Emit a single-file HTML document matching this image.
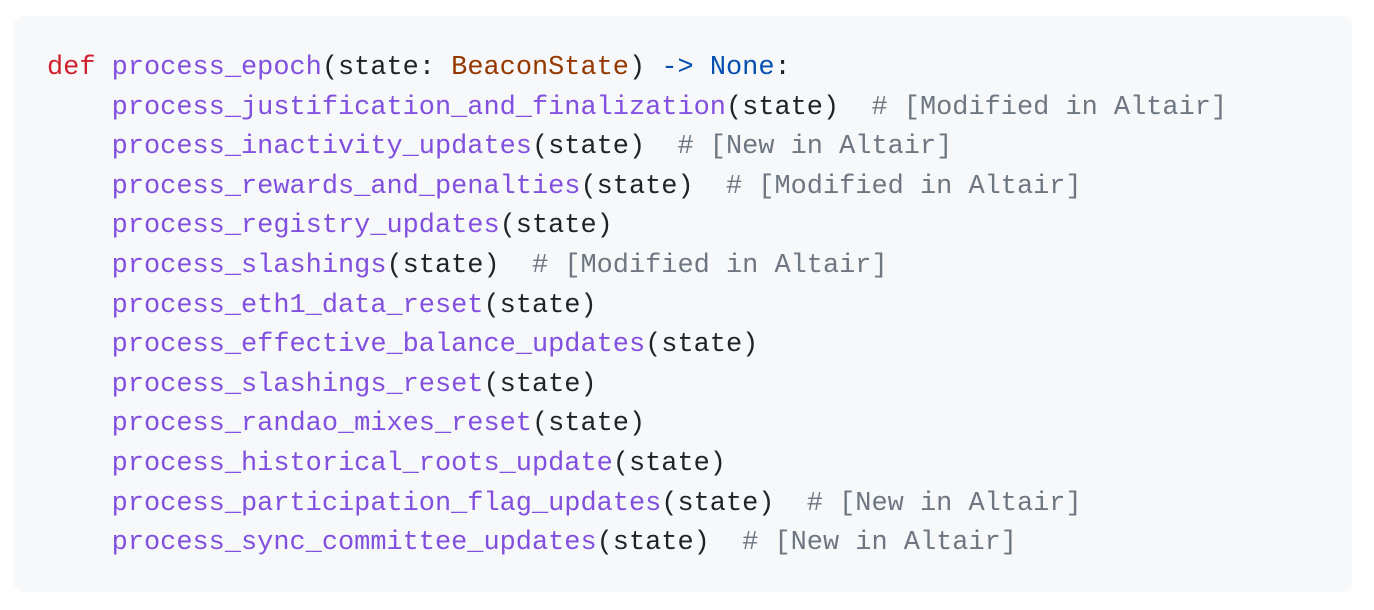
<!DOCTYPE html>
<html><head><meta charset="utf-8"><style>
html,body{margin:0;padding:0;background:#fff;width:1374px;height:610px;overflow:hidden}
.box{position:absolute;left:14px;top:16px;width:1338px;height:576px;background:#f6f8fa;border-radius:10px}
pre{position:absolute;left:47px;top:49px;margin:0;font-family:"Liberation Mono",monospace;font-size:26.95px;line-height:39.6px;color:#1f2328}
.k{color:#cf222e}.f{color:#8250df}.t{color:#953800}.b{color:#0550ae}.c{color:#6e7781}
</style></head><body><div class="box"></div>
<pre><span class="k">def</span> <span class="f">process_epoch</span>(state: <span class="t">BeaconState</span>) <span class="b">-&gt;</span> <span class="b">None</span>:
    <span class="f">process_justification_and_finalization</span>(state)  <span class="c"># [Modified in Altair]</span>
    <span class="f">process_inactivity_updates</span>(state)  <span class="c"># [New in Altair]</span>
    <span class="f">process_rewards_and_penalties</span>(state)  <span class="c"># [Modified in Altair]</span>
    <span class="f">process_registry_updates</span>(state)
    <span class="f">process_slashings</span>(state)  <span class="c"># [Modified in Altair]</span>
    <span class="f">process_eth1_data_reset</span>(state)
    <span class="f">process_effective_balance_updates</span>(state)
    <span class="f">process_slashings_reset</span>(state)
    <span class="f">process_randao_mixes_reset</span>(state)
    <span class="f">process_historical_roots_update</span>(state)
    <span class="f">process_participation_flag_updates</span>(state)  <span class="c"># [New in Altair]</span>
    <span class="f">process_sync_committee_updates</span>(state)  <span class="c"># [New in Altair]</span></pre>
</body></html>
